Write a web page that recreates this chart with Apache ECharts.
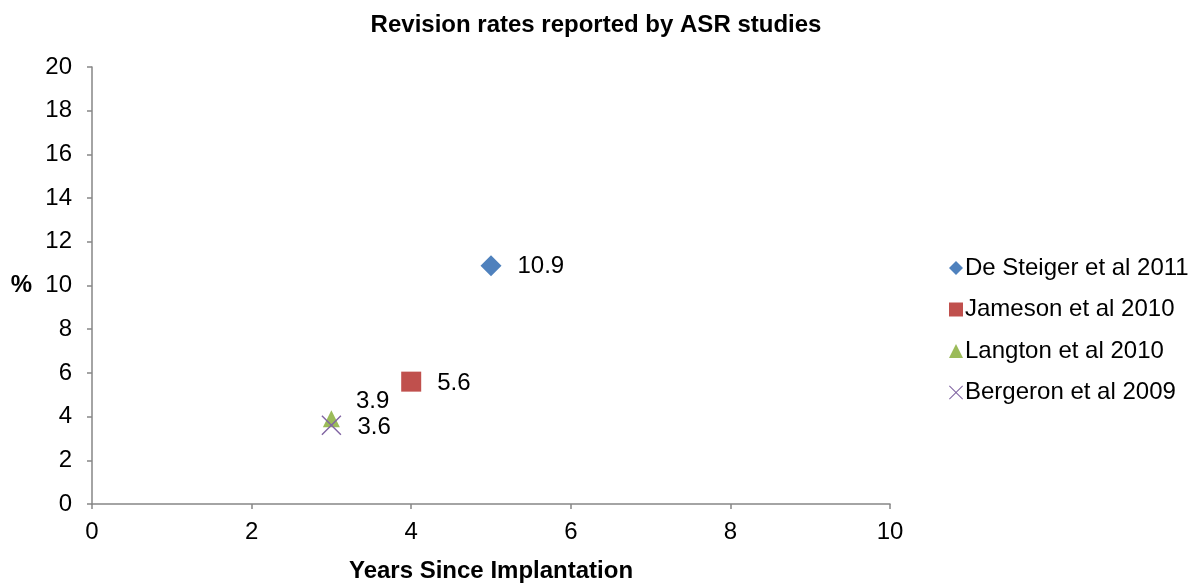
<!DOCTYPE html>
<html><head><meta charset="utf-8">
<script src="https://cdn.jsdelivr.net/npm/echarts@6/dist/echarts.min.js"></script>
<style>html,body{margin:0;padding:0;background:#fff}#c{width:1195px;height:588px}</style>
</head><body><div id="c"></div>
<script>
var seriesNames = ['De Steiger et al 2011', 'Jameson et al 2010', 'Langton et al 2010', 'Bergeron et al 2009'];
var xValues = [5, 4, 3, 3];
var yValues = [10.9, 5.6, 3.9, 3.6];
var xTicks = [0, 2, 4, 6, 8, 10];
var yTicks = [0, 2, 4, 6, 8, 10, 12, 14, 16, 18, 20];

var colors = ['#4F81BD', '#C0504D', '#9BBB59', '#8064A2'];
var crossPath = 'path://M0,1 L1,0 L10,9 L19,0 L20,1 L11,10 L20,19 L19,20 L10,11 L1,20 L0,19 L9,10 Z';
var symbols = ['diamond', 'rect', 'triangle', crossPath];
var sizes = [[21, 21], [20, 20], [17, 17], [20, 20]];
var labelOffsets = [[0, 1], [0, 2], [0, -17], [0, 2]];

var font = '"Liberation Sans", Arial, sans-serif';
var chart = echarts.init(document.getElementById('c'));
var series = seriesNames.map(function (n, i) {
  return {
    name: n,
    type: 'scatter',
    symbol: symbols[i],
    symbolSize: sizes[i],
    itemStyle: { color: colors[i], opacity: 1 },
    label: {
      show: true, position: 'right', distance: 16,
      offset: labelOffsets[i],
      color: '#000', fontSize: 24, fontFamily: font,
      formatter: function (p) { return p.value[1]; }
    },
    data: [[xValues[i], yValues[i]]]
  };
});
chart.setOption({
  animation: false,
  title: {
    text: 'Revision rates reported by ASR studies',
    left: 591, top: 8, textAlign: 'center',
    textStyle: { fontSize: 24, fontWeight: 'bold', color: '#000', fontFamily: font }
  },
  grid: { left: 92, right: 305, top: 67, bottom: 83, containLabel: false },
  legend: {
    orient: 'vertical', left: 944, top: 251,
    itemWidth: 14, itemHeight: 14, itemGap: 17.5,
    textStyle: { fontSize: 24, color: '#000', fontFamily: font, padding: [0, 0, 0, -3] },
    data: seriesNames
  },
  xAxis: {
    type: 'value', min: 0, max: 10, interval: 2,
    name: 'Years Since Implantation', nameLocation: 'middle', nameGap: 55,
    nameTextStyle: { fontSize: 24, fontWeight: 'bold', color: '#000', fontFamily: font },
    axisLine: { lineStyle: { color: '#868686', width: 1.5 } },
    axisTick: { show: true, inside: false, length: 5, lineStyle: { color: '#868686', width: 1.5 } },
    axisLabel: { fontSize: 24, color: '#000', fontFamily: font, margin: 16,
      formatter: function (v) { return xTicks.indexOf(v) >= 0 ? String(v) : ''; } },
    splitLine: { show: false }
  },
  yAxis: {
    type: 'value', min: 0, max: 20, interval: 2,
    name: '%', nameLocation: 'middle', nameGap: 60, nameRotate: 0,
    nameTextStyle: { fontSize: 24, fontWeight: 'bold', color: '#000', fontFamily: font, padding: [14, 0, 0, 0] },
    axisLine: { show: true, lineStyle: { color: '#868686', width: 1.5 } },
    axisTick: { show: true, inside: false, length: 5, lineStyle: { color: '#868686', width: 1.5 } },
    axisLabel: { fontSize: 24, color: '#000', fontFamily: font, margin: 20, padding: [3, 0, 0, 0],
      formatter: function (v) { return yTicks.indexOf(v) >= 0 ? String(v) : ''; } },
    splitLine: { show: false }
  },
  series: series
});
</script></body></html>
